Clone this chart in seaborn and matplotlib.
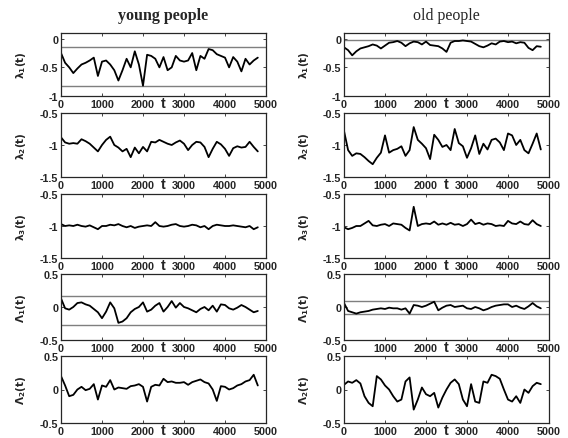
import numpy as np
import matplotlib
matplotlib.use("Agg")
import matplotlib.pyplot as plt
import seaborn as sns

# time grid (every 100 steps)
t = np.arange(0, 4801, 100)

young_l1 = [-0.25, -0.42, -0.50, -0.60, -0.52, -0.45, -0.42, -0.38, -0.33, -0.65,
            -0.40, -0.38, -0.45, -0.55, -0.73, -0.55, -0.35, -0.50, -0.22, -0.45,
            -0.82, -0.28, -0.30, -0.35, -0.50, -0.32, -0.55, -0.50, -0.30, -0.38,
            -0.40, -0.38, -0.25, -0.55, -0.30, -0.35, -0.18, -0.20, -0.27, -0.30,
            -0.33, -0.50, -0.32, -0.40, -0.57, -0.35, -0.45, -0.38, -0.33]
old_l1 = [-0.15, -0.20, -0.29, -0.22, -0.17, -0.15, -0.13, -0.10, -0.12, -0.17,
          -0.12, -0.07, -0.06, -0.04, -0.07, -0.13, -0.08, -0.05, -0.06, -0.10,
          -0.05, -0.11, -0.12, -0.13, -0.17, -0.23, -0.07, -0.04, -0.04, -0.03,
          -0.04, -0.05, -0.09, -0.13, -0.15, -0.12, -0.08, -0.10, -0.05, -0.04,
          -0.06, -0.05, -0.08, -0.06, -0.07, -0.16, -0.20, -0.13, -0.14]
young_l2 = [-0.88, -0.96, -0.98, -0.97, -0.98, -0.91, -0.94, -0.98, -1.04, -1.10,
            -1.00, -0.92, -0.87, -1.00, -1.04, -1.10, -1.06, -1.19, -1.04, -1.13,
            -1.03, -1.10, -0.95, -0.96, -0.92, -0.95, -0.98, -1.00, -0.96, -0.93,
            -0.98, -1.08, -1.00, -0.95, -0.96, -1.03, -1.19, -1.06, -0.95, -0.99,
            -1.06, -1.17, -1.05, -1.02, -1.04, -1.03, -0.95, -1.03, -1.10]
old_l2 = [-0.78, -1.08, -1.17, -1.13, -1.14, -1.19, -1.25, -1.30, -1.20, -1.12,
          -0.85, -1.12, -1.08, -1.06, -1.02, -1.17, -1.08, -0.72, -0.92, -0.98,
          -1.05, -1.22, -0.84, -0.92, -1.03, -1.00, -1.08, -0.75, -0.97, -1.02,
          -1.20, -1.05, -0.85, -1.14, -0.98, -1.07, -0.92, -0.90, -0.96, -1.08,
          -0.82, -0.85, -1.00, -0.92, -1.08, -1.13, -0.98, -0.82, -1.07]
young_l3 = [-0.97, -1.00, -0.99, -1.00, -0.98, -1.00, -1.01, -0.99, -1.02, -1.05,
            -1.00, -1.00, -0.98, -0.99, -0.97, -1.00, -1.02, -1.00, -1.03, -1.01,
            -1.00, -0.99, -1.00, -0.94, -1.00, -1.01, -1.00, -0.98, -0.97, -1.00,
            -1.01, -1.00, -0.98, -0.99, -1.02, -1.00, -1.05, -1.00, -0.98, -0.99,
            -1.00, -1.00, -0.99, -1.00, -1.01, -1.02, -1.00, -1.05, -1.02]
old_l3 = [-1.02, -1.05, -1.03, -1.00, -1.00, -0.96, -0.92, -0.99, -1.00, -0.98,
          -0.97, -1.00, -0.96, -0.97, -0.98, -1.03, -1.07, -0.70, -1.00, -0.97,
          -0.96, -0.97, -0.93, -0.98, -0.96, -0.98, -0.95, -0.98, -0.97, -1.00,
          -0.97, -0.90, -0.97, -0.95, -0.98, -0.96, -0.97, -1.00, -0.99, -1.00,
          -0.92, -0.96, -0.97, -0.93, -0.97, -0.98, -0.91, -0.97, -1.00]
young_L1 = [0.13, -0.02, -0.04, 0.00, 0.06, 0.07, 0.04, 0.02, -0.03, -0.08,
            -0.17, -0.07, 0.07, -0.02, -0.24, -0.22, -0.17, -0.08, -0.03, 0.00,
            0.07, -0.07, -0.04, 0.02, 0.06, -0.07, 0.00, 0.09, -0.01, 0.06,
            0.00, -0.02, -0.05, -0.08, -0.03, 0.00, -0.05, 0.02, -0.07, 0.04,
            0.03, -0.02, -0.04, -0.01, 0.03, 0.00, -0.04, -0.08, -0.06]
old_L1 = [0.06, -0.06, -0.08, -0.10, -0.08, -0.07, -0.06, -0.04, -0.03, -0.02,
          -0.03, -0.01, -0.02, -0.02, -0.04, -0.02, -0.10, 0.03, 0.02, 0.00,
          0.02, 0.05, 0.08, -0.05, -0.01, 0.02, 0.03, 0.00, 0.01, 0.02,
          -0.02, -0.03, 0.00, -0.02, -0.05, -0.03, 0.00, 0.02, 0.03, 0.04,
          0.04, 0.00, 0.02, -0.01, -0.03, 0.01, 0.06, 0.01, -0.02]
young_L2 = [0.20, 0.06, -0.10, -0.08, 0.00, 0.04, -0.01, 0.01, 0.08, -0.15,
            0.06, 0.04, 0.14, 0.00, 0.03, 0.02, 0.01, 0.05, 0.06, 0.08,
            0.04, -0.18, 0.04, 0.07, 0.06, 0.16, 0.11, 0.12, 0.10, 0.10,
            0.11, 0.07, 0.11, 0.13, 0.15, 0.11, 0.09, 0.00, -0.17, 0.05,
            0.04, 0.00, 0.02, 0.06, 0.08, 0.12, 0.14, 0.22, 0.06]
old_L2 = [0.07, 0.12, 0.10, 0.14, 0.09, -0.10, -0.20, -0.25, 0.20, 0.15,
          0.06, 0.00, -0.10, -0.18, -0.15, 0.12, 0.18, -0.30, -0.15, 0.03,
          -0.07, -0.10, -0.05, -0.27, -0.12, 0.00, 0.10, 0.15, 0.08, -0.15,
          -0.25, 0.08, -0.18, -0.20, 0.12, 0.10, 0.22, 0.20, 0.16, 0.00,
          -0.15, -0.18, -0.10, -0.20, 0.00, -0.05, 0.05, 0.10, 0.08]

young_series = [young_l1, young_l2, young_l3, young_L1, young_L2]
old_series = [old_l1, old_l2, old_l3, old_L1, old_L2]

# gray threshold levels per panel
young_bounds = [[-0.15, -0.82], [], [], [0.16, -0.27], []]
old_bounds = [[-0.02, -0.34], [], [], [0.09, -0.11], []]

ylabels = [r"$\mathbf{\lambda_1(t)}$", r"$\mathbf{\lambda_2(t)}$", r"$\mathbf{\lambda_3(t)}$",
           r"$\mathbf{\Lambda_1(t)}$", r"$\mathbf{\Lambda_2(t)}$"]
ylims = [(-1, 0.1), (-1.5, -0.5), (-1.5, -0.5), (-0.5, 0.5), (-0.5, 0.5)]
yticks = [[-1, -0.5, 0], [-1.5, -1, -0.5], [-1.5, -1, -0.5], [-0.5, 0, 0.5], [-0.5, 0, 0.5]]
ytick_labels = [["-1", "-0.5", "0"], ["-1.5", "-1", "-0.5"], ["-1.5", "-1", "-0.5"],
                ["-0.5", "0", "0.5"], ["-0.5", "0", "0.5"]]
xticks = [0, 1000, 2000, 3000, 4000, 5000]

sns.set_style("ticks")
plt.rcParams["font.family"] = ["Liberation Sans", "DejaVu Sans"]
plt.rcParams["font.weight"] = "bold"
plt.rcParams["axes.unicode_minus"] = False
plt.rcParams["xtick.direction"] = "in"
plt.rcParams["ytick.direction"] = "in"
plt.rcParams["xtick.top"] = True
plt.rcParams["ytick.right"] = True

W, H = 568, 439
fig = plt.figure(figsize=(W / 100, H / 100), dpi=100)

col_left = [61, 344]
col_width = 205
row_top = [34, 114, 195, 275, 357]
row_bottom = [97, 178, 259, 341, 424]

for c, (series, bounds) in enumerate([(young_series, young_bounds), (old_series, old_bounds)]):
    for r in range(5):
        ax = fig.add_axes([col_left[c] / W, 1 - row_bottom[r] / H,
                           col_width / W, (row_bottom[r] - row_top[r]) / H])
        for b in bounds[r]:
            ax.axhline(b, color="#7f7f7f", lw=1.0, zorder=1)
        sns.lineplot(x=t, y=series[r], ax=ax, color="black", lw=1.3, zorder=2)
        ax.set_xlim(0, 5000)
        ax.set_ylim(*ylims[r])
        ax.set_xticks(xticks)
        ax.set_xticklabels([str(x) for x in xticks], fontsize=7.8, fontweight="bold")
        ax.set_yticks(yticks[r])
        ax.set_yticklabels(ytick_labels[r], fontsize=7.8, fontweight="bold")
        ax.tick_params(length=2.5, width=0.6, pad=2)
        for s in ax.spines.values():
            s.set_linewidth(0.9)
        ax.set_xlabel("t", fontsize=10.5, fontweight="bold")
        ax.xaxis.set_label_coords(0.5, -0.0)
        ax.set_ylabel(ylabels[r], fontsize=7.5)
        ax.yaxis.set_label_coords(-0.16, 0.5)
        if r == 0:
            title = "young people" if c == 0 else "old people"
            ax.set_title(title, fontsize=11.5, family="Liberation Serif",
                         fontweight="bold" if c == 0 else "normal", pad=10)

fig.savefig("out.png", dpi=100)
